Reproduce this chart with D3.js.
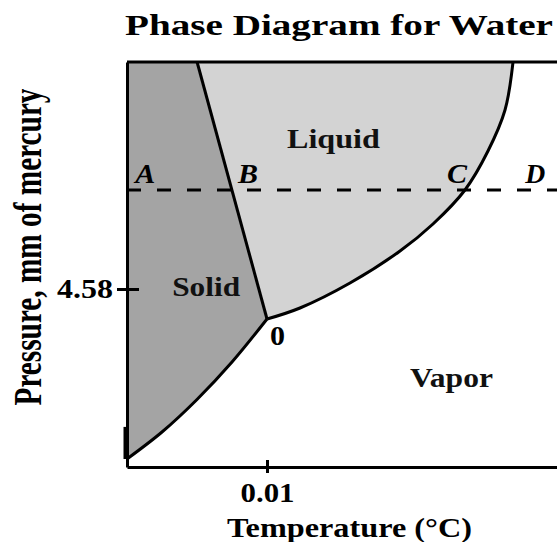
<!DOCTYPE html>
<html>
<head>
<meta charset="utf-8">
<script src="https://cdn.jsdelivr.net/npm/d3@7"></script>
<style>
  body { margin: 0; background: #fff; }
  text { font-family: "Liberation Serif", "Times New Roman", serif; font-weight: bold; }
</style>
</head>
<body>
<script>
// chart size
var w = 557;
var h = 542;

// phase boundaries, in relative units (0..100 on both axes)
var fusionTop = [16.3, 100];
var triplePoint = [32.56, 36.54];
var sublimation = [[0, 1.98], [8.14, 8.64], [16.28, 16.67], [24.42, 25.93], [32.56, 36.54]];
var vaporization = [[32.56, 36.54], [40.23, 39.26], [51.86, 45.43], [63.49, 53.33], [71.16, 60.0], [78.6, 68.4], [83.95, 78.02], [87.91, 88.15], [89.77, 100]];
var dashedLevel = 68.4;

// ticks
var xTickValues = [32.56];
var xTickLabels = ["0.01"];
var yTickValues = [43.95];
var yTickLabels = ["4.58"];

// region and point labels
var regionNames = ["Liquid", "Solid", "Vapor"];
var regionPos = [[37.2, 78.8], [10.5, 42.2], [65.8, 19.8]];
var regionLen = [93, 68, 83];
var pointNames = ["A", "B", "C", "D"];
var pointPos = [[1.9, 70.1], [25.8, 70.1], [74.4, 70.1], [92.6, 70.1]];

var x_scale = d3.scaleLinear().domain([0, 100]).range([127, 557]);
var y_scale = d3.scaleLinear().domain([0, 100]).range([467, 62]);

var svg = d3.select("body")
			.append("svg")
			.attr("width", w)
			.attr("height", h);

var curve = d3.line()
			.x(function(d){ return x_scale(d[0]); })
			.y(function(d){ return y_scale(d[1]); })
			.curve(d3.curveCatmullRom.alpha(0.5));

function pt(d){ return x_scale(d[0]) + "," + y_scale(d[1]); }

// solid region
svg.append("path")
	.attr("d", curve(sublimation) + "L" + pt(fusionTop) + "L" + pt([0, 100]) + "Z")
	.attr("fill", "#a4a4a4");

// liquid region
svg.append("path")
	.attr("d", curve(vaporization) + "L" + pt(fusionTop) + "Z")
	.attr("fill", "#d3d3d3");

// dashed line A-D
svg.append("line")
	.attr("x1", x_scale(0)).attr("x2", x_scale(100))
	.attr("y1", y_scale(dashedLevel)).attr("y2", y_scale(dashedLevel))
	.attr("stroke", "#000").attr("stroke-width", 3)
	.attr("stroke-dasharray", "14,16");

// boundaries
svg.append("path").attr("d", curve(sublimation))
	.attr("fill", "none").attr("stroke", "#000").attr("stroke-width", 3);
svg.append("path").attr("d", curve(vaporization))
	.attr("fill", "none").attr("stroke", "#000").attr("stroke-width", 3);
svg.append("line")
	.attr("x1", x_scale(fusionTop[0])).attr("y1", y_scale(fusionTop[1]))
	.attr("x2", x_scale(triplePoint[0])).attr("y2", y_scale(triplePoint[1]))
	.attr("stroke", "#000").attr("stroke-width", 3);

// top border
svg.append("line")
	.attr("x1", x_scale(0)).attr("x2", x_scale(100))
	.attr("y1", y_scale(100)).attr("y2", y_scale(100))
	.attr("stroke", "#000").attr("stroke-width", 3);

// axes
var x_axis = d3.axisBottom(x_scale)
			.tickValues(xTickValues)
			.tickFormat(function(d, i){ return xTickLabels[i]; })
			.tickSizeOuter(0);
var y_axis = d3.axisLeft(y_scale)
			.tickValues(yTickValues)
			.tickFormat(function(d, i){ return yTickLabels[i]; })
			.tickSizeOuter(0);

var gx = svg.append("g")
	.attr("transform", "translate(0," + y_scale(0) + ")")
	.call(x_axis);
gx.select(".domain").attr("stroke-width", 3);
gx.selectAll(".tick line").attr("y1", -7).attr("y2", 6).attr("stroke-width", 3);
gx.selectAll(".tick text")
	.attr("y", 35).attr("dy", 0)
	.attr("font-size", 28).attr("font-family", null)
	.attr("textLength", 54).attr("lengthAdjust", "spacingAndGlyphs");

var gy = svg.append("g")
	.attr("transform", "translate(" + x_scale(0) + ",0)")
	.call(y_axis);
gy.select(".domain").attr("stroke-width", 3);
gy.selectAll(".tick line").attr("x1", -10).attr("x2", 12).attr("stroke-width", 3);
gy.selectAll(".tick text")
	.attr("x", -14).attr("dy", 8)
	.attr("font-size", 28).attr("font-family", null)
	.attr("textLength", 56).attr("lengthAdjust", "spacingAndGlyphs");

// thick stub on the left axis near the bottom
svg.append("line")
	.attr("x1", x_scale(0) - 1.5).attr("x2", x_scale(0) - 1.5)
	.attr("y1", y_scale(9.9)).attr("y2", y_scale(1.98))
	.attr("stroke", "#000").attr("stroke-width", 4);

// region labels
svg.selectAll(".region")
	.data(regionNames)
	.enter()
	.append("text")
	.attr("class", "region")
	.attr("x", function(d, i){ return x_scale(regionPos[i][0]); })
	.attr("y", function(d, i){ return y_scale(regionPos[i][1]); })
	.attr("font-size", 28)
	.attr("fill", "#111")
	.attr("textLength", function(d, i){ return regionLen[i]; })
	.attr("lengthAdjust", "spacingAndGlyphs")
	.text(function(d){ return d; });

// point labels
svg.selectAll(".pt")
	.data(pointNames)
	.enter()
	.append("text")
	.attr("class", "pt")
	.attr("x", function(d, i){ return x_scale(pointPos[i][0]); })
	.attr("y", function(d, i){ return y_scale(pointPos[i][1]); })
	.attr("font-size", 27)
	.attr("font-style", "italic")
	.attr("textLength", 20)
	.attr("lengthAdjust", "spacingAndGlyphs")
	.text(function(d){ return d; });

// triple point label
svg.append("text")
	.attr("x", x_scale(triplePoint[0]) + 3)
	.attr("y", y_scale(triplePoint[1]) + 26)
	.attr("font-size", 27)
	.attr("textLength", 15)
	.attr("lengthAdjust", "spacingAndGlyphs")
	.text("0");

// title
svg.append("text")
	.attr("x", 125).attr("y", 35)
	.attr("font-size", 30)
	.attr("textLength", 428)
	.attr("lengthAdjust", "spacingAndGlyphs")
	.text("Phase Diagram for Water");

// x label
svg.append("text")
	.attr("x", 227).attr("y", 537)
	.attr("font-size", 28)
	.attr("textLength", 245)
	.attr("lengthAdjust", "spacingAndGlyphs")
	.text("Temperature (\u00b0C)");

// y label
svg.append("text")
	.attr("transform", "translate(41,247) scale(1.45,1) rotate(-90)")
	.attr("text-anchor", "middle")
	.attr("font-size", 28)
	.attr("textLength", 317)
	.attr("lengthAdjust", "spacingAndGlyphs")
	.text("Pressure, mm  of mercury");
</script>
</body>
</html>
